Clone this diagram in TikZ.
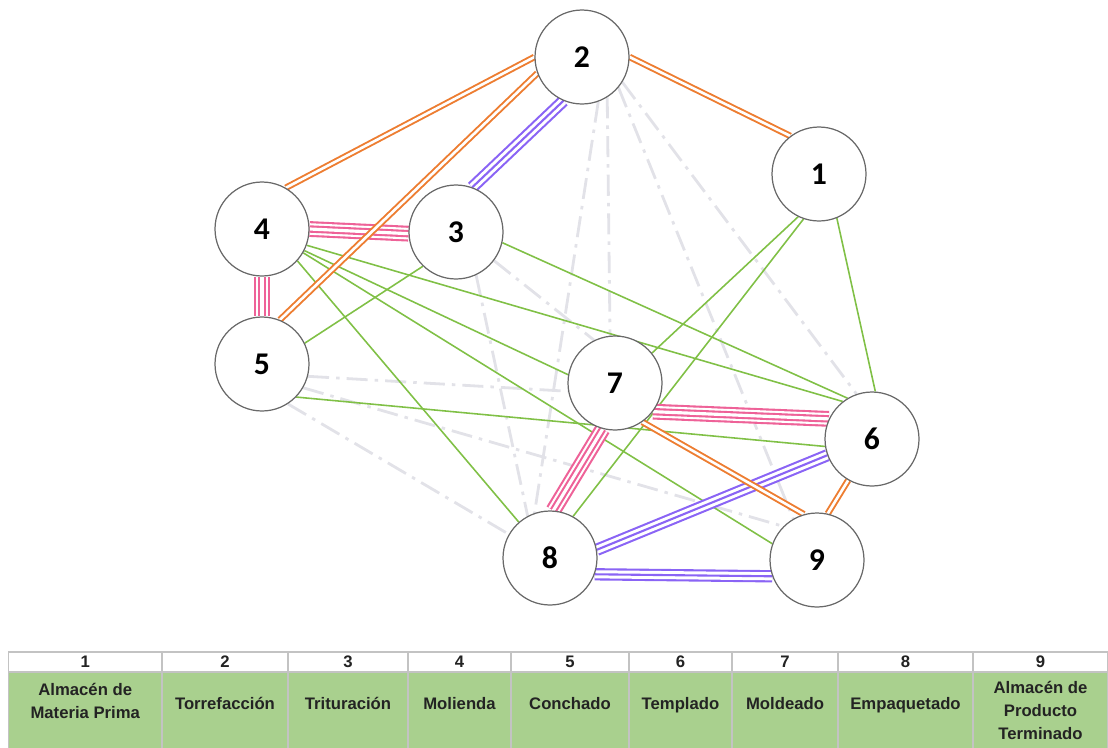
\documentclass[tikz,border=0pt]{standalone}
\usepackage{fontspec}
\setmainfont{Carlito}
\newfontfamily\tablafont{Liberation Sans}
\pgfdeclarelayer{fondo}
\pgfsetlayers{fondo,main}

\definecolor{colA}{RGB}{238,98,152}
\definecolor{colE}{RGB}{138,100,245}
\definecolor{colI}{RGB}{237,125,49}
\definecolor{colO}{RGB}{128,192,70}
\definecolor{colU}{RGB}{226,226,232}
\definecolor{borde}{RGB}{105,105,105}
\definecolor{verdetabla}{RGB}{169,208,142}
\definecolor{lineatabla}{RGB}{195,195,195}
\definecolor{textotabla}{RGB}{35,35,35}

\tikzset{
  estacion/.style={circle, draw=borde, fill=white, line width=0.7pt, minimum size=1.88cm, inner sep=0pt, font=\fontsize{18}{20}\selectfont\bfseries},
  lineaA/.style={draw=colA, line width=9pt, postaction={draw=white, line width=6.6pt}, postaction={draw=colA, line width=4.2pt}, postaction={draw=white, line width=1.8pt}},
  lineaE/.style={draw=colE, line width=7pt, postaction={draw=white, line width=4.6pt}, postaction={draw=colE, line width=1.2pt}},
  lineaI/.style={draw=colI, double=white, line width=1.1pt, double distance=1.5pt},
  lineaO/.style={draw=colO, line width=0.9pt},
  lineaU/.style={draw=colU, line width=1.6pt, dash pattern=on 12pt off 4pt on 2pt off 4pt},
  celdanum/.style={draw=lineatabla, fill=white, line width=0.6pt},
  celdaverde/.style={draw=lineatabla, fill=verdetabla, line width=0.6pt},
  textonum/.style={font=\tablafont\bfseries\fontsize{9.5}{11}\selectfont, text=textotabla},
  textocelda/.style={font=\tablafont\bfseries\fontsize{9.5}{13}\selectfont, text=textotabla, align=center}
}

\begin{document}
\begin{tikzpicture}[x=0.02cm, y=-0.02cm]
    \useasboundingbox (0,0) rectangle (1108,747);

    % estaciones
    \node[estacion] (n1) at (819,174) {1};
    \node[estacion] (n2) at (582,57) {2};
    \node[estacion] (n3) at (456,232) {3};
    \node[estacion] (n4) at (262,229) {4};
    \node[estacion] (n5) at (262,364) {5};
    \node[estacion] (n6) at (872,439) {6};
    \node[estacion] (n7) at (615,383) {7};
    \node[estacion] (n8) at (550,558) {8};
    \node[estacion] (n9) at (817,560) {9};

    % relaciones
    \begin{pgfonlayer}{fondo}
    \foreach \a/\b in {2.-70/8.109, 2.-58/7.96, 2.-40/9.120, 2.-32/6.109, 3.-37/7.116, 3.-65/8.118, 5.-15/7.190, 5.-57/8.150, 5.-30/9.135}
        \draw[lineaU] (n\a) -- (n\b);
    \foreach \a/\b in {1.-68/6.86, 1.244/7.39, 1.251/8.61, 3.-13/6.121, 3.226/5.26, 4.-20/6.128, 4.-27/7.170, 4.-30/9.160, 4.-42/8.131, 5.-44/6.189}
        \draw[lineaO] (n\a) -- (n\b);
    \foreach \a/\b in {4.0/3.182, 4.270/5.90, 7.-37/6.155, 7.255/8.86}
        \draw[lineaA] (n\a) -- (n\b);
    \foreach \a/\b in {2.247/3.70, 8.10/6.200, 8.-20/9.200}
        \draw[lineaE] (n\a) -- (n\b);
    \foreach \a/\b in {2.0/1.127, 2.180/4.60, 2.200/5.68, 7.-55/9.106, 6.240/9.77}
        \draw[lineaI] (n\a) -- (n\b);
    \end{pgfonlayer}

    % tabla de areas
    \foreach \num/\xa/\xb/\ty/\nombre in {
        1/8.5/162/704/{Almacén de\\Materia Prima},
        2/162/288/705/Torrefacción,
        3/288/408/705/Trituración,
        4/408/511/705/Molienda,
        5/511/629/705/Conchado,
        6/629/732/705/Templado,
        7/732/838/705/Moldeado,
        8/838/973/705/Empaquetado,
        9/973/1108/714/{Almacén de\\Producto\\Terminado}}
    {
        \filldraw[celdanum] (\xa,652) rectangle (\xb,672);
        \node[textonum] (num\num) at ({(\xa+\xb)/2},662) {\num};
        \filldraw[celdaverde] (\xa,672) rectangle (\xb,752);
        \node[textocelda] (area\num) at ({(\xa+\xb)/2},\ty) {\nombre\strut};
    }

\end{tikzpicture}
\end{document}
